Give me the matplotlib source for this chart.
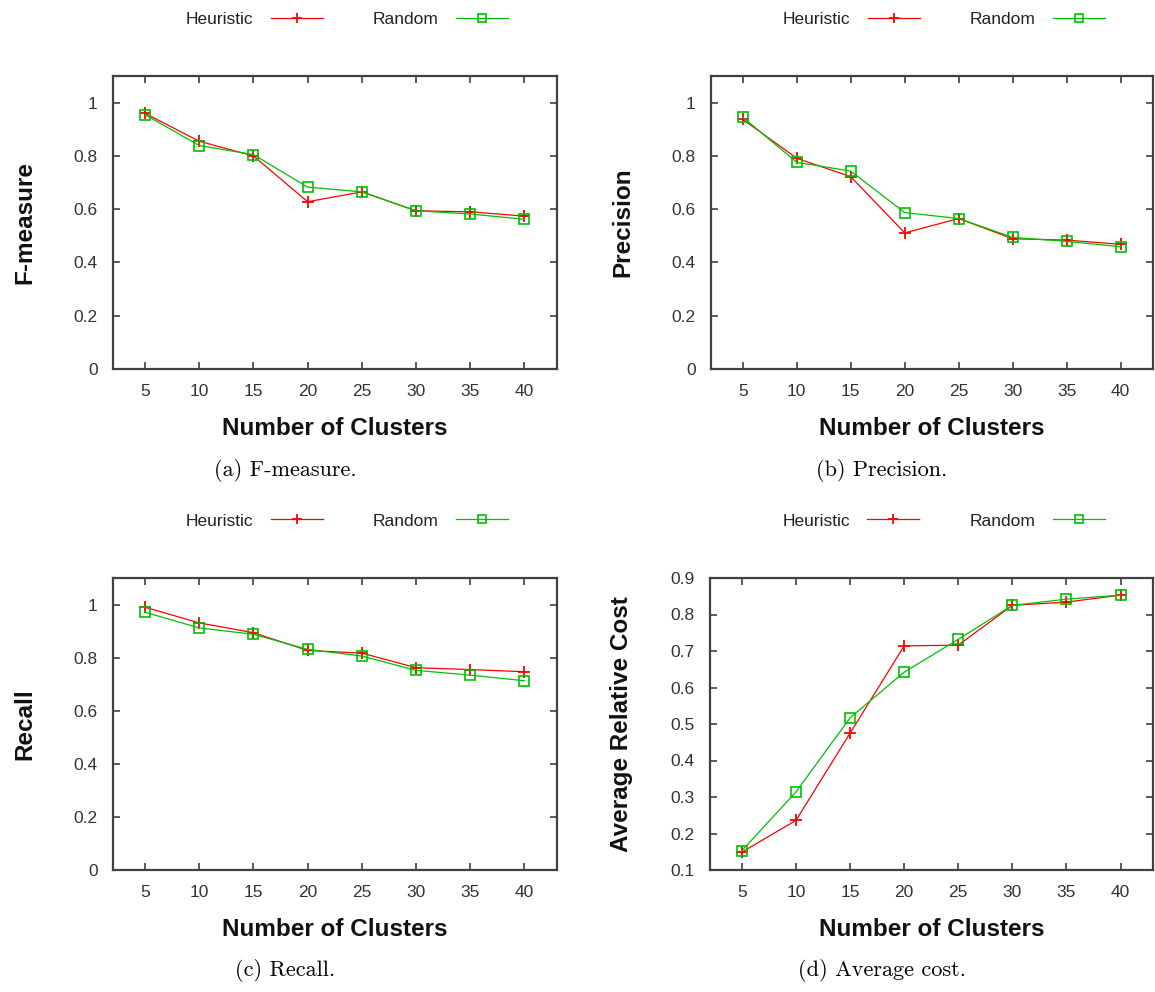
import matplotlib
matplotlib.use("Agg")
import matplotlib.pyplot as plt

clusters = [5, 10, 15, 20, 25, 30, 35, 40]

fmeasure_heur = [0.96, 0.855, 0.80, 0.628, 0.665, 0.594, 0.590, 0.574]
fmeasure_rand = [0.955, 0.839, 0.805, 0.683, 0.665, 0.594, 0.582, 0.562]

precision_heur = [0.937, 0.791, 0.722, 0.511, 0.565, 0.489, 0.484, 0.468]
precision_rand = [0.945, 0.776, 0.743, 0.587, 0.565, 0.494, 0.479, 0.459]

recall_heur = [0.990, 0.931, 0.894, 0.827, 0.817, 0.762, 0.755, 0.747]
recall_rand = [0.971, 0.912, 0.888, 0.831, 0.806, 0.752, 0.734, 0.713]

cost_heur = [0.149, 0.236, 0.475, 0.714, 0.716, 0.825, 0.834, 0.853]
cost_rand = [0.153, 0.314, 0.517, 0.642, 0.732, 0.825, 0.842, 0.853]

panels = [
    ("F-measure", fmeasure_heur, fmeasure_rand, "(a) F-measure.", (0, 1.1), [0, 0.2, 0.4, 0.6, 0.8, 1]),
    ("Precision", precision_heur, precision_rand, "(b) Precision.", (0, 1.1), [0, 0.2, 0.4, 0.6, 0.8, 1]),
    ("Recall", recall_heur, recall_rand, "(c) Recall.", (0, 1.1), [0, 0.2, 0.4, 0.6, 0.8, 1]),
    ("Average Relative Cost", cost_heur, cost_rand, "(d) Average cost.", (0.1, 0.9),
     [0.1, 0.2, 0.3, 0.4, 0.5, 0.6, 0.7, 0.8, 0.9]),
]

W, H = 1155, 992
# axes boxes in pixels: left, right, top, bottom
boxes = [(113, 557, 76, 369), (711, 1153, 76, 369), (113, 557, 578, 870), (710, 1153, 578, 870)]

plt.rcParams['font.family'] = ['Liberation Sans', 'DejaVu Sans']

fig = plt.figure(figsize=(W / 100, H / 100), dpi=100)

spine_col = '#404040'
red = '#ff0000'
green = '#00c000'

for (ylab, heur, rand, cap, ylim, yticks), (l, r, t, b) in zip(panels, boxes):
    ax = fig.add_axes([l / W, 1 - b / H, (r - l) / W, (b - t) / H])
    ax.plot(clusters, heur, color=red, lw=0.9, marker='+', ms=9, mew=1.3, label='Heuristic')
    ax.plot(clusters, rand, color=green, lw=0.9, marker='s', ms=7.5, mew=1.2, mfc='none',
            label='Random')
    ax.set_xlim(2.05, 43.0)
    ax.set_ylim(*ylim)
    ax.set_xticks(clusters)
    ax.set_yticks(yticks)
    ax.set_yticklabels([('%g' % v) for v in yticks])
    for s in ax.spines.values():
        s.set_color(spine_col)
        s.set_linewidth(1.6)
    ax.tick_params(direction='in', length=5, width=1.2, color=spine_col, top=True, right=True,
                   labelsize=12.5, labelcolor='#333333', pad=11)
    ax.set_xlabel('Number of Clusters', fontsize=17.5, fontweight='bold', labelpad=13,
                  color='#111111')
    ax.set_ylabel(ylab, fontsize=17.5, fontweight='bold', labelpad=27, color='#111111')

    cx = (l + r) / 2 + 12
    leg = ax.legend(loc='center', bbox_to_anchor=(cx / W, 1 - (t - 57) / H),
                    bbox_transform=fig.transFigure, ncol=2, markerfirst=False, frameon=False,
                    numpoints=1, handlelength=3.0, columnspacing=2.9, handletextpad=1.0,
                    fontsize=12.5, markerscale=0.8)
    for txt in leg.get_texts():
        txt.set_color('#222222')

    fig.text(((l + r) / 2 - 50) / W, 1 - (b + 101) / H, cap, ha='center', va='center',
             fontsize=16, family='cmr10')

fig.savefig('out.png', dpi=100, facecolor='white')
